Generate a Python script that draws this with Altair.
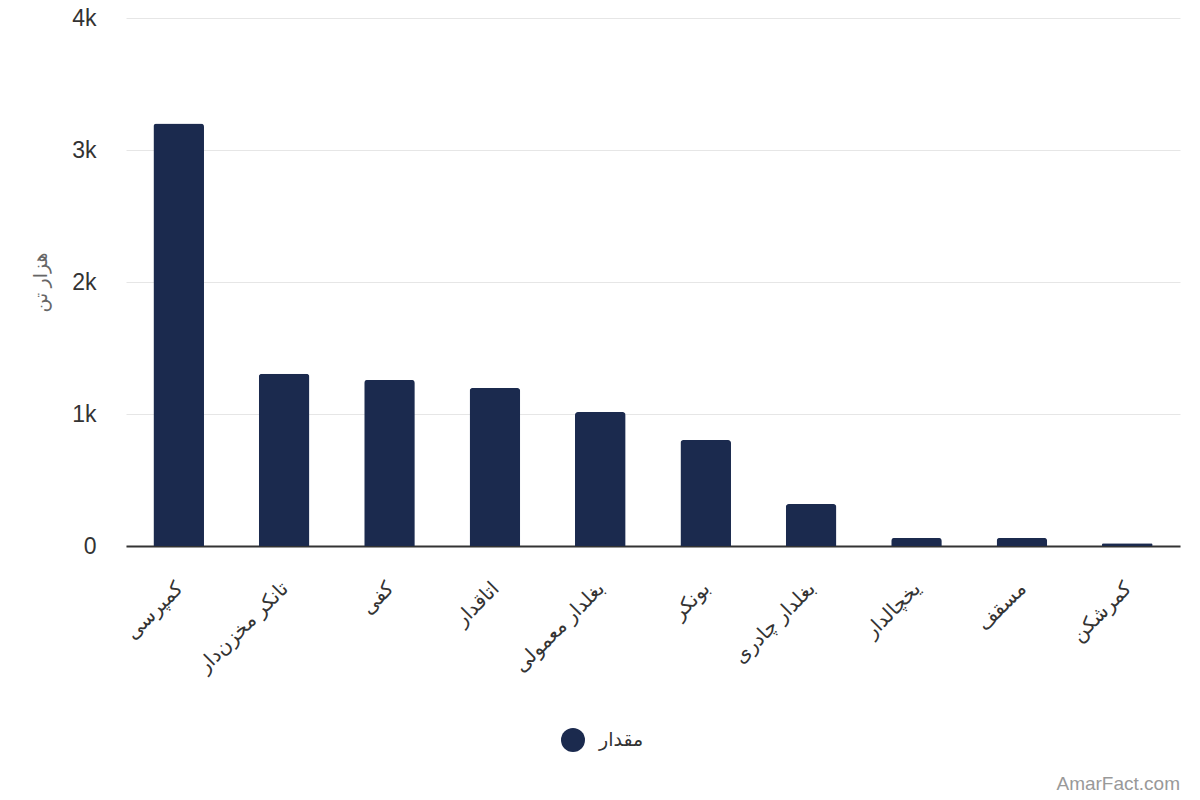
import altair as alt
import pandas as pd

categories = ["کمپرسی", "تانکر مخزن‌دار", "کفی", "اتاقدار", "بغلدار معمولی",
              "بونکر", "بغلدار چادری", "یخچالدار", "مسقف", "کمرشکن"]
values = [3200, 1305, 1258, 1197, 1015, 803, 318, 61, 61, 20]
series_name = "مقدار"
y_title = "هزار تن"
watermark = "AmarFact.com"

df = pd.DataFrame({"cat": categories, "val": values, "series": [series_name] * len(values)})

FONT = "Liberation Sans, DejaVu Sans, Noto Sans"
BAR = "#1b2a4e"

bars = alt.Chart(df).mark_bar(
    cornerRadiusTopLeft=3, cornerRadiusTopRight=3
).encode(
    x=alt.X("cat:N", sort=None, title=None,
            scale=alt.Scale(paddingInner=0.52, paddingOuter=0.26),
            axis=alt.Axis(labelAngle=-45, labelFontSize=20, labelColor="#333333",
                          labelFont=FONT, ticks=False, domainColor="#333333",
                          domainWidth=2, labelPadding=32, labelOffset=-6,
                          labelLimit=300)),
    y=alt.Y("val:Q", title=y_title,
            scale=alt.Scale(domain=[0, 4000], nice=False),
            axis=alt.Axis(values=[0, 1000, 2000, 3000, 4000],
                          labelExpr="datum.value == 0 ? '0' : format(datum.value / 1000, 'd') + 'k'",
                          labelFontSize=23, labelColor="#333333", labelFont=FONT,
                          ticks=False, domain=False, gridColor="#e6e6e6",
                          labelPadding=30, titleFontSize=19, titleColor="#666666",
                          titleFont=FONT, titleFontWeight="normal", titleX=-86,
                          titleY=264, titleAlign="center", titleBaseline="middle")),
    color=alt.Color("series:N", scale=alt.Scale(range=[BAR]),
                    legend=alt.Legend(orient="none", legendX=435, legendY=710,
                                      title=None, symbolType="circle", symbolSize=576,
                                      symbolStrokeWidth=0, labelFontSize=19,
                                      labelFont=FONT, labelColor="#333333",
                                      labelOffset=14)),
)

wm = alt.Chart(pd.DataFrame({"t": [watermark]})).mark_text(
    align="right", baseline="alphabetic", fontSize=19, color="#999999", font=FONT
).encode(x=alt.value(1054), y=alt.value(772), text="t:N")

chart = alt.layer(bars, wm).properties(
    width=1054, height=528,
    background="white",
    autosize=alt.AutoSizeParams(type="none"),
    padding={"left": 126, "top": 18, "right": 20, "bottom": 254},
).configure_view(stroke=None)

chart.save("out.html", embed_options={"renderer": "svg", "actions": False})
